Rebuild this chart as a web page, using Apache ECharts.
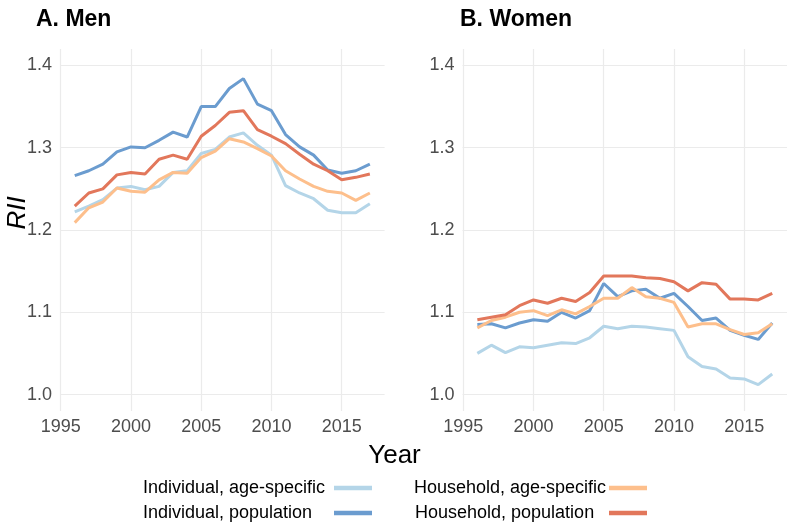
<!DOCTYPE html>
<html>
<head>
<meta charset="utf-8">
<script src="https://cdn.jsdelivr.net/npm/echarts@6.0.0/dist/echarts.min.js"></script>
<style>
  html, body { margin: 0; padding: 0; background: #fff; }
  #chart { width: 789px; height: 525px; }
</style>
</head>
<body>
<div id="chart"></div>
<script>
const years = [1996,1997,1998,1999,2000,2001,2002,2003,2004,2005,2006,2007,2008,2009,2010,2011,2012,2013,2014,2015,2016,2017];

const seriesNames = ['Individual, age-specific', 'Individual, population', 'Household, age-specific', 'Household, population'];
const seriesColors = ['#b4d5e8', '#6b9ccf', '#fdbf8c', '#e2775b'];

// A. Men
const menIndAge = [1.222,1.229,1.237,1.251,1.253,1.249,1.253,1.270,1.272,1.293,1.298,1.313,1.318,1.303,1.291,1.254,1.245,1.238,1.224,1.221,1.221,1.232];
const menIndPop = [1.266,1.272,1.280,1.295,1.301,1.300,1.309,1.319,1.313,1.350,1.350,1.372,1.384,1.353,1.345,1.316,1.301,1.291,1.273,1.269,1.272,1.280];
const menHhAge  = [1.209,1.227,1.234,1.251,1.247,1.246,1.261,1.270,1.269,1.288,1.296,1.311,1.307,1.299,1.290,1.272,1.262,1.253,1.247,1.245,1.236,1.245];
const menHhPop  = [1.229,1.245,1.250,1.267,1.270,1.268,1.286,1.291,1.286,1.314,1.327,1.343,1.345,1.322,1.314,1.305,1.292,1.280,1.272,1.261,1.264,1.268];

// B. Women
const womenIndAge = [1.050,1.060,1.051,1.058,1.057,1.060,1.063,1.062,1.069,1.083,1.080,1.083,1.082,1.080,1.078,1.046,1.034,1.031,1.020,1.019,1.012,1.025];
const womenIndPop = [1.085,1.086,1.081,1.087,1.091,1.089,1.100,1.093,1.102,1.135,1.119,1.126,1.128,1.117,1.123,1.107,1.090,1.093,1.078,1.072,1.067,1.087];
const womenHhAge  = [1.081,1.090,1.094,1.100,1.102,1.096,1.103,1.098,1.107,1.117,1.117,1.130,1.119,1.117,1.112,1.082,1.086,1.086,1.079,1.073,1.075,1.086];
const womenHhPop  = [1.091,1.094,1.097,1.108,1.115,1.111,1.117,1.113,1.124,1.144,1.144,1.144,1.142,1.141,1.137,1.126,1.136,1.134,1.116,1.116,1.115,1.123];

const yTicks = [1.0, 1.1, 1.2, 1.3, 1.4];
const xTicks = [1995, 2000, 2005, 2010, 2015];

const font = "'Liberation Sans', Arial, Helvetica, sans-serif";

const chartDom = document.getElementById('chart');
const myChart = echarts.init(chartDom, null, { renderer: 'canvas' });

const pairs = vals => years.map((y, i) => [y, vals[i]]);

const makeX = idx => ({
    type: 'value',
    gridIndex: idx,
    min: 1994.95,
    max: 2018.05,
    axisLine: { show: false },
    axisTick: { show: false },
    axisLabel: {
        showMinLabel: false,
        showMaxLabel: false,
        color: '#4d4d4d',
        fontSize: 18,
        fontFamily: font,
        margin: 7,
        formatter: v => (xTicks.indexOf(Math.round(v * 100) / 100) >= 0 ? String(v) : '')
    },
    splitLine: {
        show: true,
        showMinLine: false,
        showMaxLine: false,
        lineStyle: { color: '#ebebeb', width: 1.2 }
    }
});

const makeY = idx => ({
    type: 'value',
    gridIndex: idx,
    min: 0.98,
    max: 1.42,
    axisLine: { show: false },
    axisTick: { show: false },
    axisLabel: {
        showMinLabel: false,
        showMaxLabel: false,
        color: '#4d4d4d',
        fontSize: 18,
        fontFamily: font,
        margin: 8,
        formatter: v => {
            const r = Math.round(v * 100) / 100;
            return yTicks.indexOf(r) >= 0 ? r.toFixed(1) : '';
        }
    },
    splitLine: {
        show: true,
        showMinLine: false,
        showMaxLine: false,
        lineStyle: { color: '#ebebeb', width: 1.2 }
    }
});

const panels = [
    [menIndAge, menIndPop, menHhAge, menHhPop],
    [womenIndAge, womenIndPop, womenHhAge, womenHhPop]
];

const series = [];
panels.forEach((set, p) => {
    set.forEach((vals, k) => {
        series.push({
            name: seriesNames[k],
            type: 'line',
            xAxisIndex: p,
            yAxisIndex: p,
            data: pairs(vals),
            showSymbol: false,
            symbol: 'none',
            silent: true,
            color: seriesColors[k],
            lineStyle: { color: seriesColors[k], width: 3 }
        });
    });
});

// one legend per entry: text on the left, key on the right, keys lined up per column
const legendSpots = [
    { left: 143, top: 479, w: 186 },
    { left: 143, top: 504, w: 186 },
    { left: 414, top: 479, w: 190 },
    { left: 415, top: 504, w: 189 }
];

const legends = seriesNames.map((name, k) => ({
    data: [name],
    orient: 'horizontal',
    align: 'right',
    left: legendSpots[k].left,
    top: legendSpots[k].top,
    padding: 0,
    icon: 'rect',
    itemWidth: 38,
    itemHeight: 4.5,
    selectedMode: false,
    formatter: n => '{a|' + n + '}',
    textStyle: {
        color: '#000',
        fontSize: 18,
        fontFamily: font,
        rich: { a: { width: legendSpots[k].w, align: 'left', fontSize: 18, lineHeight: 18, fontFamily: font, color: '#000' } }
    }
}));

let option = {
    backgroundColor: '#fff',
    animation: false,
    title: [
        { text: 'A. Men', left: 31, top: 3, textStyle: { fontSize: 23, fontWeight: 'bold', fontFamily: font, color: '#000' } },
        { text: 'B. Women', left: 455, top: 3, textStyle: { fontSize: 23, fontWeight: 'bold', fontFamily: font, color: '#000' } },
        { text: 'Year', left: 'center', top: 438, textStyle: { fontSize: 26, fontWeight: 'normal', fontFamily: font, color: '#000' } }
    ],
    graphic: [
        {
            type: 'text',
            x: 18,
            y: 213,
            rotation: Math.PI / 2,
            style: {
                text: 'RII',
                font: "italic 26px 'Liberation Sans', Arial, sans-serif",
                fill: '#000',
                align: 'center',
                verticalAlign: 'middle'
            }
        }
    ],
    grid: [
        { left: 60, top: 49, width: 324.6, height: 362, containLabel: false },
        { left: 462.6, top: 49, width: 324.4, height: 362, containLabel: false }
    ],
    xAxis: [makeX(0), makeX(1)],
    yAxis: [makeY(0), makeY(1)],
    legend: legends,
    series: series
};

option && myChart.setOption(option);
</script>
</body>
</html>
